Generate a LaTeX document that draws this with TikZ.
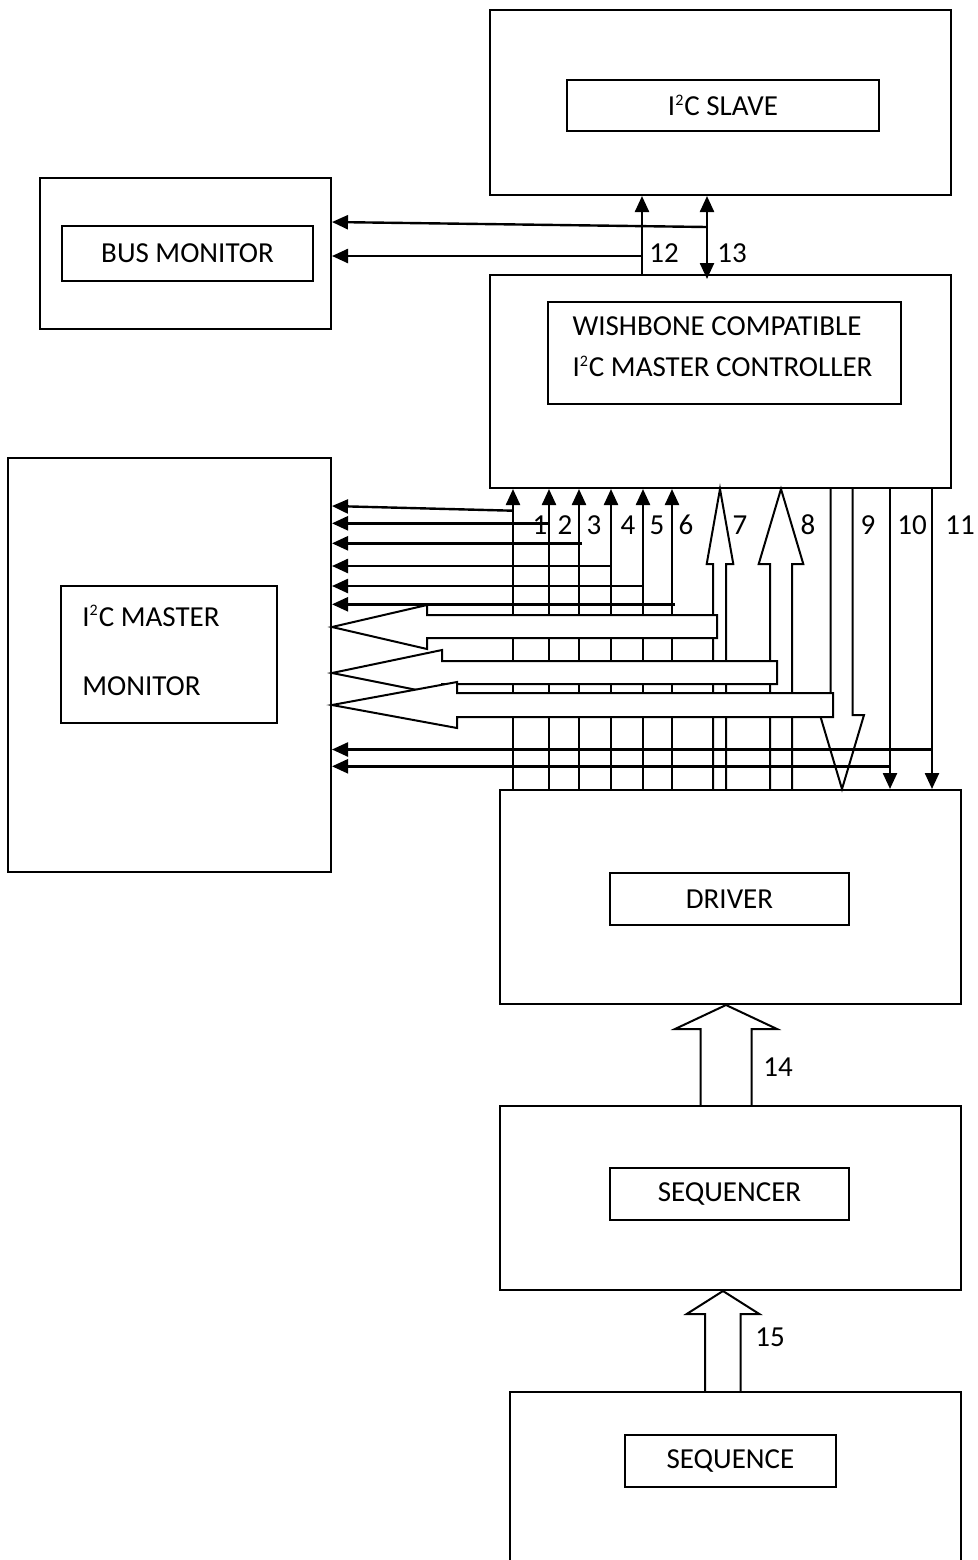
\documentclass[tikz,border=0pt]{standalone}
\usepackage{fontspec}
\setmainfont{Carlito}
\usetikzlibrary{arrows.meta, fit}

\tikzset{
  outbox/.style={draw, line width=1pt, inner sep=0pt},
  inbox/.style={draw, line width=1pt, inner sep=0pt},
  lbl/.style={inner sep=0pt, font=\fontsize{14.5}{17}\selectfont},
  arr/.style={line width=1.2pt, ->},
  darr/.style={line width=1.2pt, <->},
  fat/.style={line width=1pt, line join=miter},
}
\newcommand{\itwoc}{I\textsuperscript{\footnotesize 2}C}

\begin{document}
\begin{tikzpicture}[x=0.5pt, y=-0.5pt, >={Triangle[length=8pt,width=7pt]}]
  \useasboundingbox (0,0) rectangle (978,1560);

  % blocchi
  \node[outbox, fit={(490,10) (951,195)}] (slave) {};
  \node[inbox, fit={(567,80) (879,131)}, label={[lbl]center:\itwoc{} SLAVE}] (slavein) {};
  \node[outbox, fit={(40,178) (331,329)}] (busmon) {};
  \node[inbox, fit={(62,226) (313,281)}, label={[lbl]center:BUS MONITOR}] (busin) {};
  \node[outbox, fit={(490,275) (951,488)}] (wb) {};
  \node[inbox, fit={(548,302) (901,404)}] (wbin) {};
  \node[lbl, align=left, font=\fontsize{14.5}{20.5}\selectfont]
    (wbtext) at ([xshift=-1pt, yshift=3pt]wbin.center)
    {WISHBONE COMPATIBLE\\\itwoc{} MASTER CONTROLLER};
  \node[outbox, fit={(8,458) (331,872)}] (mmon) {};
  \node[inbox, fit={(61,586) (277,723)}] (mmin) {};
  \node[lbl, anchor=west, align=left, font=\fontsize{14.5}{34.5}\selectfont]
    (mmtext) at ([xshift=11pt, yshift=2pt]mmin.west)
    {\itwoc{} MASTER\\MONITOR};
  \node[outbox, fit={(500,790) (961,1004)}] (drv) {};
  \node[inbox, fit={(610,873) (849,925)}, label={[lbl]center:DRIVER}] (drvin) {};
  \node[outbox, fit={(500,1106) (961,1290)}] (seqr) {};
  \node[inbox, fit={(610,1168) (849,1220)}, label={[lbl]center:SEQUENCER}] (seqrin) {};
  \node[outbox, fit={(510,1392) (961,1610)}] (seq) {};
  \node[inbox, fit={(625,1435) (836,1487)}, label={[lbl]center:SEQUENCE}] (seqin) {};

  % segnali 12 e 13
  \draw[arr] (642,0 |- wb.north) -- (642,0 |- slave.south);
  \draw[darr] (707,279) -- (707,0 |- slave.south);
  \draw[arr] (707,227) -- (busmon.east |- 0,222);
  \draw[arr] (642,256) -- (busmon.east |- 0,256);
  \node[lbl] (l12) at (664,253) {12};
  \node[lbl] (l13) at (732,253) {13};

  % linee verso il controller
  \foreach \x in {513,549,579,611,643,672}
    \draw[arr] (\x,0 |- drv.north) -- (\x,0 |- wb.south);
  % linee verso il driver
  \foreach \x in {890,932}
    \draw[arr] (\x,0 |- wb.south) -- (\x,0 |- drv.north);

  % frecce larghe 7, 8, 9
  \draw[fat] (713,0 |- drv.north) -- (713,564) -- (706.7,564) -- (720,0 |- wb.south)
    -- (733.3,564) -- (726,564) -- (726,0 |- drv.north);
  \draw[fat] (770,0 |- drv.north) -- (770,564) -- (758.7,564) -- (781,0 |- wb.south)
    -- (803.3,564) -- (792,564) -- (792,0 |- drv.north);
  \draw[fat] (830.7,0 |- wb.south) -- (830.7,715) -- (820,715) -- (842,0 |- drv.north)
    -- (864,715) -- (852.7,715) -- (852.7,0 |- wb.south);

  % linee verso il monitor
  \foreach \x/\ya/\yb in {513/510.7/506, 549/523.3/523.3, 582/543.3/543.3,
                          611/566/566, 643/586/586, 675/604.3/604.3,
                          932/749.5/749.5, 890/766.3/766.3}
    \draw[arr] (\x,\ya) -- (mmon.east |- 0,\yb);

  % frecce larghe verso il monitor
  \draw[fat, fill=white] (717,615) -- (427,615) -- (427,605) -- (mmon.east |- 0,627)
    -- (427,649) -- (427,638) -- (717,638) -- cycle;
  \draw[fat, fill=white] (777,661) -- (442,661) -- (442,650) -- (mmon.east |- 0,673)
    -- (442,695) -- (442,684) -- (777,684) -- cycle;
  \draw[fat, fill=white] (833,693) -- (457,693) -- (457,682) -- (mmon.east |- 0,705)
    -- (457,728) -- (457,717) -- (833,717) -- cycle;

  % numeri
  \foreach \n/\x in {1/540,2/565,3/594,4/628,5/657,6/686,7/740,8/808,9/868,10/912,11/960}
    \node[lbl] (l\n) at (\x,525) {\n};

  % frecce 14 e 15
  \draw[fat] (700.7,0 |- seqr.north) -- (700.7,1029) -- (675,1029) -- (726,0 |- drv.south)
    -- (777,1029) -- (751.7,1029) -- (751.7,0 |- seqr.north);
  \node[lbl] (l14) at (778,1067) {14};
  \draw[fat] (705,0 |- seq.north) -- (705,1314) -- (686.7,1314) -- (723,0 |- seqr.south)
    -- (759.3,1314) -- (740.7,1314) -- (740.7,0 |- seq.north);
  \node[lbl] (l15) at (770,1337) {15};
\end{tikzpicture}
\end{document}
